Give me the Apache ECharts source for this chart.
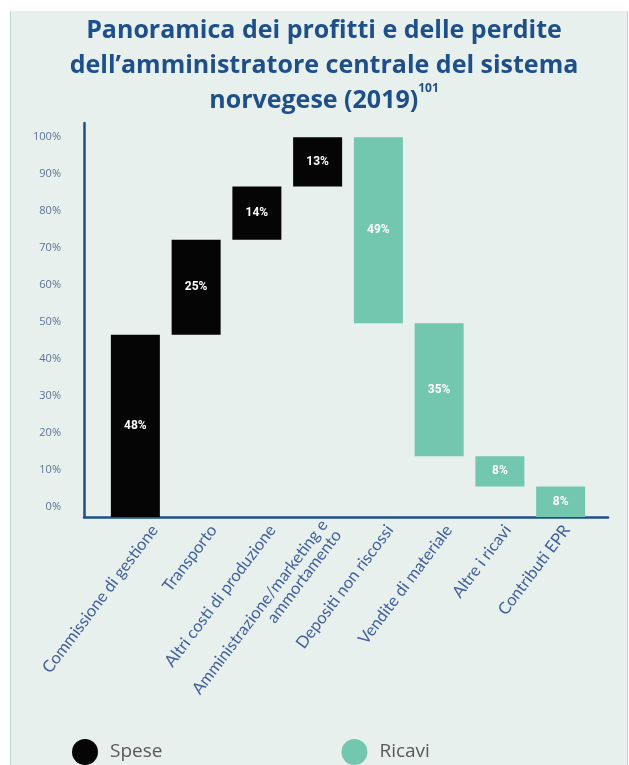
<!DOCTYPE html>
<html>
<head>
<meta charset="utf-8">
<script src="https://cdn.jsdelivr.net/npm/echarts@6/dist/echarts.min.js"></script>
<style>
  html, body { margin: 0; padding: 0; background: #ffffff; width: 629px; height: 765px; overflow: hidden; }
  #panel { position: absolute; left: 10px; top: 11px; width: 616px; height: 780px; background: #e7f0ed; border-left: 1px solid #b7dccd; border-right: 1px solid #b7dccd; }
  #chart { position: absolute; left: 0; top: 0; width: 629px; height: 765px; }
</style>
</head>
<body>
<div id="panel"></div>
<div id="chart"></div>
<script>
// ---- data ----
const categories = [
  'Commissione di gestione',
  'Transporto',
  'Altri costi di produzione',
  'Amministrazione/marketing e\nammortamento',
  'Depositi non riscossi',
  'Vendite di materiale',
  'Altre i ricavi',
  'Contributi EPR'
];
const speseValues = [48, 25, 14, 13];
const ricaviValues = [49, 35, 8, 8];
const yTickValues = [0, 10, 20, 30, 40, 50, 60, 70, 80, 90, 100];
const legendNames = ['Spese', 'Ricavi'];

// ---- waterfall build ----
const baseData = [], speseData = [], ricaviData = [];
let cum = 0;
speseValues.forEach(v => { baseData.push(cum); speseData.push(v); ricaviData.push('-'); cum += v; });
let level = cum;
ricaviValues.forEach(v => { level -= v; baseData.push(level); speseData.push('-'); ricaviData.push(v); });

const axisBlue = '#1e4f8b';
const barLabel = { show: true, position: 'inside', formatter: '{c}%', color: '#ffffff', fontWeight: 'bold', fontSize: 12, fontFamily: 'Roboto' };

const chart = echarts.init(document.getElementById('chart'), null, { renderer: 'canvas' });
chart.setOption({
  backgroundColor: 'transparent',
  animation: false,
  title: {
    text: 'Panoramica dei profitti e delle perdite\ndell\u2019amministratore centrale del sistema\nnorvegese (2019){sup|101}',
    left: 319, textAlign: 'center', top: 8,
    textStyle: {
      fontFamily: 'Open Sans', fontWeight: 'bold', fontSize: 25, color: axisBlue, lineHeight: 35,
      rich: { sup: { fontFamily: 'Open Sans', fontWeight: 'bold', fontSize: 12, color: axisBlue, verticalAlign: 'top', lineHeight: 28 } }
    }
  },
  legend: {
    data: legendNames, left: 67, top: 734, icon: 'circle', itemWidth: 26, itemHeight: 26, itemGap: 179,
    textStyle: { fontFamily: 'Open Sans', fontSize: 19, color: '#595959', padding: [0, 0, 0, 7] }
  },
  grid: [
    { left: 105, right: 38, top: 122, bottom: 248 },
    { left: 84, right: 21, top: 123, bottom: 248 },
    { left: 125, right: 33, top: 122, bottom: 248 }
  ],
  xAxis: [
    { gridIndex: 0, type: 'category', data: categories, axisLine: { show: false }, axisTick: { show: false }, axisLabel: { show: false } },
    { gridIndex: 1, type: 'category', data: categories, axisLine: { show: true, onZero: false, lineStyle: { color: axisBlue, width: 2.5 } }, axisTick: { show: false }, axisLabel: { show: false } },
    { gridIndex: 2, type: 'category', data: categories, axisLine: { show: false }, axisTick: { show: false },
      axisLabel: { show: true, rotate: 53, margin: 10, interval: 0, fontFamily: 'Lato', fontSize: 16.5, lineHeight: 17, color: '#41609c' } }
  ],
  yAxis: [
    { gridIndex: 0, type: 'value', min: 0, max: 104, show: false },
    { gridIndex: 1, type: 'value', min: -2.7, max: 103.8, minInterval: 10, maxInterval: 10,
      axisLine: { show: true, lineStyle: { color: axisBlue, width: 2.5 } }, axisTick: { show: false }, splitLine: { show: false },
      axisLabel: { margin: 23, fontFamily: 'Open Sans', fontSize: 11, color: '#5f7196', showMinLabel: false, showMaxLabel: false,
        formatter: v => yTickValues.some(t => Math.abs(t - v) < 1e-6) ? Math.round(v) + '%' : '' } },
    { gridIndex: 2, type: 'value', show: false }
  ],
  series: [
    { name: 'base', type: 'bar', stack: 'w', xAxisIndex: 0, yAxisIndex: 0, data: baseData, barWidth: 49, silent: true,
      itemStyle: { color: 'transparent' } },
    { name: 'Spese', type: 'bar', stack: 'w', xAxisIndex: 0, yAxisIndex: 0, data: speseData, barWidth: 49,
      itemStyle: { color: '#050505' }, label: barLabel },
    { name: 'Ricavi', type: 'bar', stack: 'w', xAxisIndex: 0, yAxisIndex: 0, data: ricaviData, barWidth: 49,
      itemStyle: { color: '#72c7ae' }, label: barLabel }
  ]
});
</script>
</body>
</html>
